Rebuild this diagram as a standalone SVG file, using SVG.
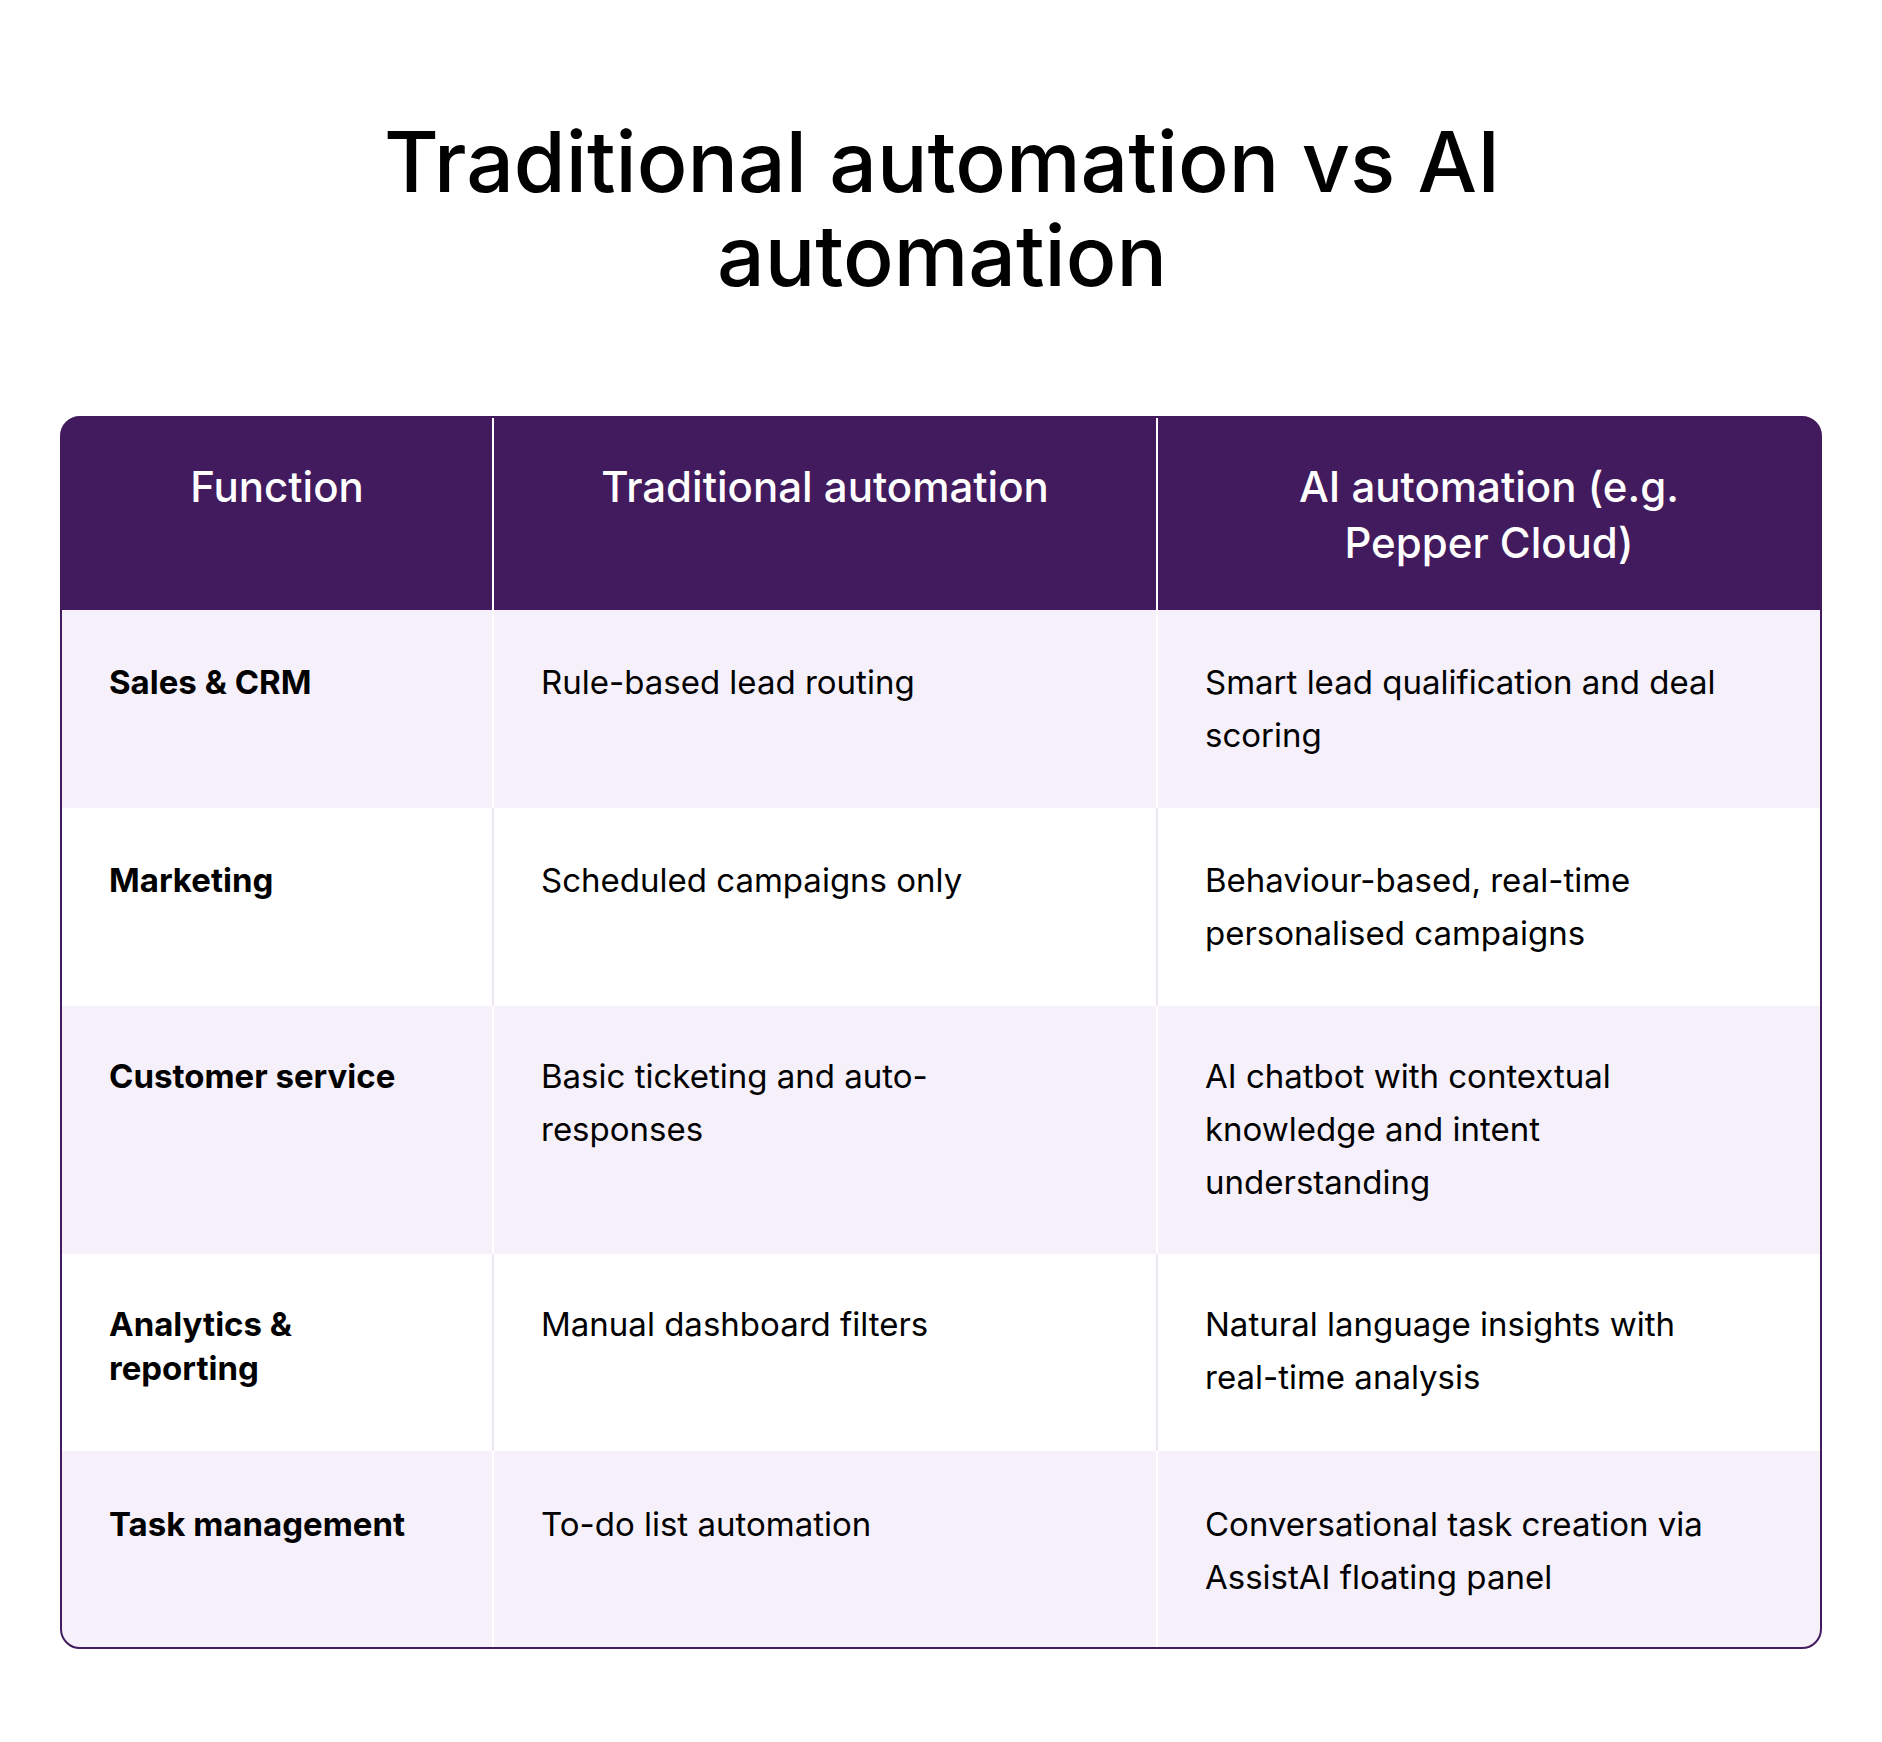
<svg xmlns="http://www.w3.org/2000/svg" width="1882" height="1742" viewBox="0 0 1882 1742">
<style>
.t{font-family:Inter,"Liberation Sans",sans-serif;fill:#000}
.title{font-size:84px;font-weight:500}
.h{font-size:42px;fill:#fff;font-weight:500}
.b{font-size:33px}
.bb{font-size:33px;font-weight:700}
</style>
<defs><clipPath id="c"><rect x="61" y="417" width="1760" height="1231" rx="19"/></clipPath></defs>
<rect width="1882" height="1742" fill="#fff"/>
<g id="title"><text class="t title" x="942" y="192" text-anchor="middle">Traditional automation vs AI</text>
<text class="t title" x="942" y="286" text-anchor="middle">automation</text></g>
<g id="table" clip-path="url(#c)">
<rect x="61" y="417" width="1760" height="193" fill="#421B5E"/>
<rect x="61" y="610" width="1760" height="198" fill="#F5F0FA"/>
<rect x="61" y="808" width="1760" height="198" fill="#fff"/>
<rect x="61" y="1006" width="1760" height="248" fill="#F5F0FA"/>
<rect x="61" y="1254" width="1760" height="197" fill="#fff"/>
<rect x="61" y="1451" width="1760" height="197" fill="#F5F0FA"/>
<g stroke="#fff" stroke-width="2"><line x1="493" y1="417" x2="493" y2="1648"/><line x1="1157" y1="417" x2="1157" y2="1648"/></g>
<g stroke="#ece6f0" stroke-width="2"><line x1="493" y1="808" x2="493" y2="1006"/><line x1="1157" y1="808" x2="1157" y2="1006"/><line x1="493" y1="1254" x2="493" y2="1451"/><line x1="1157" y1="1254" x2="1157" y2="1451"/></g>
</g>
<rect x="61" y="417" width="1760" height="1231" rx="19" fill="none" stroke="#421B5E" stroke-width="2"/>
<g id="header">
<text class="t h" x="277" y="502" text-anchor="middle">Function</text>
<text class="t h" x="825" y="502" text-anchor="middle">Traditional automation</text>
<text class="t h" x="1489" y="502" text-anchor="middle">AI automation (e.g.</text>
<text class="t h" x="1489" y="558" text-anchor="middle">Pepper Cloud)</text>
</g>
<g id="row1"><text class="t bb" x="109" y="694">Sales &amp; CRM</text><text class="t b" x="541" y="694">Rule-based lead routing</text><text class="t b" x="1205" y="694">Smart lead qualification and deal</text><text class="t b" x="1205" y="747">scoring</text></g>
<g id="row2"><text class="t bb" x="109" y="892">Marketing</text><text class="t b" x="541" y="892">Scheduled campaigns only</text><text class="t b" x="1205" y="892">Behaviour-based, real-time</text><text class="t b" x="1205" y="945">personalised campaigns</text></g>
<g id="row3"><text class="t bb" x="109" y="1088">Customer service</text><text class="t b" x="541" y="1088">Basic ticketing and auto-</text><text class="t b" x="541" y="1141">responses</text><text class="t b" x="1205" y="1088">AI chatbot with contextual</text><text class="t b" x="1205" y="1141">knowledge and intent</text><text class="t b" x="1205" y="1194">understanding</text></g>
<g id="row4"><text class="t bb" x="109" y="1336">Analytics &amp;</text><text class="t bb" x="109" y="1380">reporting</text><text class="t b" x="541" y="1336">Manual dashboard filters</text><text class="t b" x="1205" y="1336">Natural language insights with</text><text class="t b" x="1205" y="1389">real-time analysis</text></g>
<g id="row5"><text class="t bb" x="109" y="1536">Task management</text><text class="t b" x="541" y="1536">To-do list automation</text><text class="t b" x="1205" y="1536">Conversational task creation via</text><text class="t b" x="1205" y="1589">AssistAI floating panel</text></g>
<g id="connectors"/>
</svg>
